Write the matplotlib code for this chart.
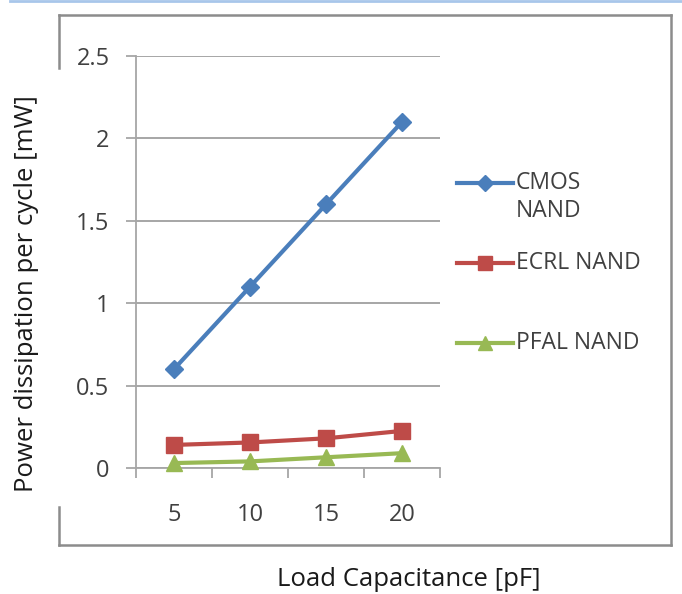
import matplotlib
matplotlib.use('Agg')
import matplotlib.pyplot as plt
from matplotlib.lines import Line2D

plt.rcParams['font.family'] = ['Open Sans', 'DejaVu Sans']

loads = ['5', '10', '15', '20']
cmos = [0.6, 1.1, 1.6, 2.1]
ecrl = [0.14, 0.155, 0.18, 0.225]
pfal = [0.03, 0.04, 0.065, 0.09]
names = ['CMOS\nNAND', 'ECRL NAND', 'PFAL NAND']
yticks = [0, 0.5, 1, 1.5, 2, 2.5]

W, H = 682, 594
fig = plt.figure(figsize=(W / 100, H / 100), dpi=100)


def fx(px):
    return px / W


def fy(py):
    return 1 - py / H


ax = fig.add_axes([fx(136), fy(468), fx(440) - fx(136), fy(56) - fy(468)])

colors = ['#4a7ebb', '#be4b48', '#98b954']
markers = ['D', 's', '^']
msizes = [9.5, 11.5, 12]
x = range(len(loads))
for vals, c, m, ms in zip([cmos, ecrl, pfal], colors, markers, msizes):
    ax.plot(x, vals, color=c, lw=3, marker=m, ms=ms, mec=c, mfc=c,
            clip_on=False, zorder=3)

ax.set_xlim(-0.5, len(loads) - 0.5)
ax.set_ylim(0, 2.5)
ax.set_yticks(yticks)
ax.set_yticklabels(['0', '0.5', '1', '1.5', '2', '2.5'])
ax.set_xticks(x)
ax.set_xticklabels(loads)
ax.set_xticks([i - 0.5 for i in range(len(loads) + 1)], minor=True)

grid_c = '#a6a6a6'
ax.grid(axis='y', color=grid_c, lw=1.4)
ax.set_axisbelow(True)
for s in ['top', 'right']:
    ax.spines[s].set_visible(False)
for s in ['left', 'bottom']:
    ax.spines[s].set_color(grid_c)
    ax.spines[s].set_linewidth(1.3)

ax.tick_params(axis='y', length=7, width=1.3, color=grid_c, pad=12,
               labelsize=17, labelcolor='#404040')
ax.tick_params(axis='x', which='major', length=0, pad=25,
               labelsize=17, labelcolor='#404040')
ax.tick_params(axis='x', which='minor', length=7, width=1.3, color=grid_c)

# outer chart frame, broken on the left where the axis title sits
frame_c = '#8c8c8c'
for xs, ys in [((59, 671), (15, 15)), ((671, 671), (15, 545)),
               ((59, 671), (545, 545)), ((59, 59), (15, 68)),
               ((59, 59), (507, 545))]:
    fig.add_artist(Line2D([fx(v) for v in xs], [fy(v) for v in ys],
                          color=frame_c, lw=1.8))

# thin blue rule along the top edge
fig.add_artist(Line2D([fx(10), fx(682)], [fy(1), fy(1)], color='#a8c6ea', lw=2))

fig.text(fx(27), fy(294), 'Power dissipation per cycle [mW]', rotation=90,
         ha='center', va='center', fontsize=18.5, color='#1a1a1a')
fig.text(fx(409), fy(580), 'Load Capacitance [pF]',
         ha='center', va='center', fontsize=18.5, color='#1a1a1a')

# legend
leg_y = [183, 263, 343]
for name, c, m, ms, yy in zip(names, colors, markers, msizes, leg_y):
    fig.add_artist(Line2D([fx(457), fx(513)], [fy(yy), fy(yy)], color=c, lw=3))
    fig.add_artist(Line2D([fx(485)], [fy(yy)], marker=m, ms=ms * 0.85, color=c,
                          mec=c, mfc=c))
    fig.text(fx(516), fy(yy - 12), name, ha='left', va='top',
             fontsize=16.5, color='#404040', linespacing=1.2)

fig.savefig('out.png', dpi=100)
